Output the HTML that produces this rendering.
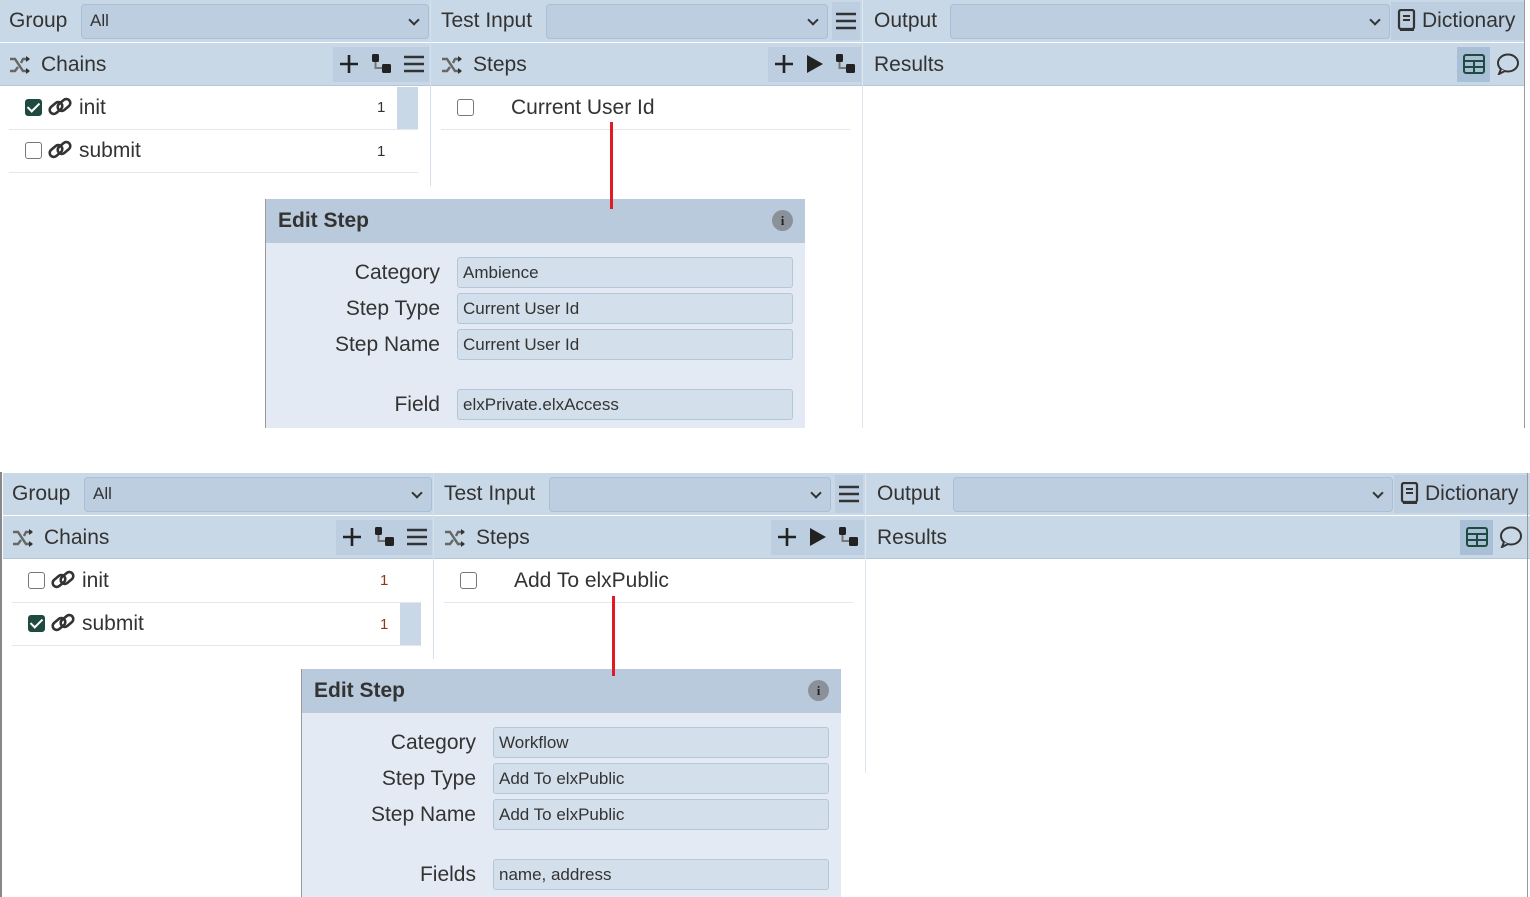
<!DOCTYPE html>
<html><head><meta charset="utf-8"><style>
*{box-sizing:border-box;margin:0;padding:0}
body{width:1530px;height:897px;background:#fff;position:relative;overflow:hidden;font-family:"Liberation Sans",sans-serif;color:#333}
.a{position:absolute}
.sec{position:absolute;width:1530px;height:430px}
.bar{position:absolute;background:#c9d8e6}
.sel{position:absolute;background:#bccee0;border:1px solid #a9bfd6;border-radius:4px;font-size:17px;padding:6px 8px}
.sel:after{content:"";position:absolute;right:10px;top:11px;width:6px;height:6px;border-right:2px solid #333;border-bottom:2px solid #333;transform:rotate(45deg)}
.t21{font-size:21px;white-space:nowrap}
.tb{position:absolute;background:#bccee0}
.cb{position:absolute;width:17px;height:17px;border:1.5px solid #777;border-radius:3px;background:#fff}
.cb.on{background:#1f4a42;border-color:#1f4a42}
.cb.on:after{content:"";position:absolute;left:4px;top:0px;width:5px;height:10px;border-right:2.5px solid #fff;border-bottom:2.5px solid #fff;transform:rotate(45deg)}
.sep{position:absolute;height:1px;background:#e3e8ee}
.vl{position:absolute;width:1px;background:#dde6ef}
.panel{position:absolute;width:540px;background:#e3eaf3;border-left:1px solid #999}
.ph{height:44px;background:#b9cadc;font-weight:bold;font-size:21px;padding:10px 12px;position:relative}
.info{position:absolute;right:12px;top:11px;width:21px;height:21px;border-radius:50%;background:#8a9199;color:#222;font-size:13px;text-align:center;line-height:21px;font-family:"Liberation Serif",serif;font-weight:bold}
.lbl{position:absolute;right:365px;font-size:21px;white-space:nowrap}
.inp{position:absolute;left:191px;width:336px;height:31px;background:#d3dfeb;border:1px solid #b3c6da;border-radius:3px;font-size:17px;padding:5px 5px}
.red{position:absolute;width:3px;background:#e01b24}
.ic{position:absolute;font-size:22px;line-height:1}
svg{position:absolute}
</style></head><body>
<svg width="0" height="0" style="position:absolute">
 <defs>
  <g id="link"><g fill="none" stroke="#333" stroke-width="2.6"><rect x="1" y="8" width="14" height="8" rx="4" transform="rotate(-40 8 12)"/><rect x="9" y="5" width="14" height="8" rx="4" transform="rotate(-40 16 9)"/></g></g>
  <g id="flow"><rect x="0" y="0" width="7" height="8" rx="1.5" fill="#222"/><rect x="10" y="10" width="9" height="9" rx="1.5" fill="#222"/><path d="M3.5 8 V14 H10" fill="none" stroke="#777" stroke-width="2"/></g>
  <g id="shuf"><path d="M1 4 H6 L14 16 H20 M1 16 H6 L9 12 M12 8 L14 4 H20" fill="none" stroke="#666" stroke-width="2.4"/><path d="M17 1 L21 4 L17 7 Z M17 13 L21 16 L17 19 Z" fill="#333"/></g>
  <g id="ham"><path d="M0 2 H20 M0 9 H20 M0 16 H20" stroke="#333" stroke-width="2.6"/></g>
  <g id="plus"><path d="M9 0 V18 M0 9 H18" stroke="#222" stroke-width="2.6"/></g>
 </defs>
</svg>

<!-- TOP -->
<div class="sec" style="left:0;top:0">
 <div class="bar" style="left:0;top:0;width:1524px;height:42px"></div>
 <div class="bar" style="left:0;top:43px;width:1524px;height:43px;border-bottom:1px solid #b3c6da"></div>
 <div class="a t21" style="left:9px;top:9px">Group</div>
 <div class="sel" style="left:81px;top:4px;width:348px;height:35px">All</div>
 <div class="a t21" style="left:441px;top:9px">Test Input</div>
 <div class="sel" style="left:546px;top:4px;width:282px;height:35px"></div>
 <div class="tb" style="left:832px;top:2px;width:28px;height:38px"></div>
 <svg style="left:836px;top:12px" width="20" height="18"><use href="#ham"/></svg>
 <div class="vl" style="left:430px;top:0;height:186px;background:#d5e0eb"></div>
 <div class="vl" style="left:862px;top:0;height:428px"></div>
 <div class="a t21" style="left:874px;top:9px">Output</div>
 <div class="sel" style="left:950px;top:4px;width:440px;height:35px"></div>
 <div class="tb" style="left:1391px;top:2px;width:133px;height:38px"></div>
 <svg style="left:1397px;top:9px" width="20" height="24"><rect x="2" y="1" width="15" height="19" rx="2" fill="none" stroke="#333" stroke-width="2.2"/><path d="M6 7 H13 M6 11 H13 M3 21 H17" stroke="#333" stroke-width="2"/></svg>
 <div class="a t21" style="left:1422px;top:9px">Dictionary</div>
 <svg style="left:9px;top:55px" width="22" height="20"><use href="#shuf"/></svg>
 <div class="a t21" style="left:41px;top:53px">Chains</div>
 <div class="tb" style="left:333px;top:47px;width:96px;height:35px"></div>
 <svg style="left:340px;top:55px" width="18" height="18"><use href="#plus"/></svg>
 <svg style="left:372px;top:54px" width="20" height="20"><use href="#flow"/></svg>
 <svg style="left:404px;top:55px" width="20" height="18"><use href="#ham"/></svg>
 <svg style="left:441px;top:55px" width="22" height="20"><use href="#shuf"/></svg>
 <div class="a t21" style="left:473px;top:53px">Steps</div>
 <div class="tb" style="left:768px;top:47px;width:93px;height:35px"></div>
 <svg style="left:775px;top:55px" width="18" height="18"><use href="#plus"/></svg>
 <svg style="left:806px;top:54px" width="18" height="20"><path d="M1 1 L17 10 L1 19 Z" fill="#222"/></svg>
 <svg style="left:836px;top:54px" width="20" height="20"><use href="#flow"/></svg>
 <div class="a t21" style="left:874px;top:53px">Results</div>
 <div class="tb" style="left:1457px;top:47px;width:33px;height:35px;background:#a9bfd6"></div>
 <svg style="left:1463px;top:54px" width="22" height="20"><rect x="1" y="1" width="20" height="18" rx="2" fill="none" stroke="#1f4a42" stroke-width="2"/><path d="M1 7 H21 M1 13 H21 M11 7 V19" stroke="#1f4a42" stroke-width="2"/></svg>
 <svg style="left:1496px;top:53px" width="24" height="22"><ellipse cx="12" cy="10" rx="10" ry="8.5" fill="none" stroke="#333" stroke-width="2"/><path d="M5 16 L3 21 L9 18" fill="#c9d8e6" stroke="#333" stroke-width="2"/></svg>
 <div class="vl" style="left:1524px;top:0;height:428px;background:#999"></div>
 <div class="a" style="left:397px;top:87px;width:21px;height:42px;background:#c9d8e6"></div>
 <div class="cb on" style="left:25px;top:99px"></div>
 <svg style="left:48px;top:96px" width="26" height="22"><use href="#link"/></svg>
 <div class="a t21" style="left:79px;top:96px">init</div>
 <div class="a" style="left:377px;top:99px;font-size:15px">1</div>
 <div class="sep" style="left:9px;top:129px;width:409px"></div>
 <div class="cb" style="left:25px;top:142px"></div>
 <svg style="left:48px;top:139px" width="26" height="22"><use href="#link"/></svg>
 <div class="a t21" style="left:79px;top:139px">submit</div>
 <div class="a" style="left:377px;top:143px;font-size:15px">1</div>
 <div class="sep" style="left:9px;top:172px;width:409px"></div>
 <div class="cb" style="left:457px;top:99px"></div>
 <div class="a t21" style="left:511px;top:96px">Current User Id</div>
 <div class="sep" style="left:441px;top:129px;width:409px"></div>
</div>
<div class="red" style="left:610px;top:122px;height:87px;z-index:2"></div>
<div class="panel" style="left:265px;top:199px;height:229px">
 <div class="ph">Edit Step<div class="info">i</div></div>
 <div class="lbl" style="top:62px">Category</div><div class="inp" style="top:58px">Ambience</div>
 <div class="lbl" style="top:98px">Step Type</div><div class="inp" style="top:94px">Current User Id</div>
 <div class="lbl" style="top:134px">Step Name</div><div class="inp" style="top:130px">Current User Id</div>
 <div class="lbl" style="top:194px">Field</div><div class="inp" style="top:190px">elxPrivate.elxAccess</div>
</div>

<!-- BOTTOM -->
<div class="a" style="left:0;top:472px;width:2px;height:425px;background:#888"></div>
<div class="sec" style="left:3px;top:473px;height:424px">
 <div class="bar" style="left:0;top:0;width:1527px;height:42px"></div>
 <div class="bar" style="left:0;top:43px;width:1527px;height:43px;border-bottom:1px solid #b3c6da"></div>
 <div class="a t21" style="left:9px;top:9px">Group</div>
 <div class="sel" style="left:81px;top:4px;width:348px;height:35px">All</div>
 <div class="a t21" style="left:441px;top:9px">Test Input</div>
 <div class="sel" style="left:546px;top:4px;width:282px;height:35px"></div>
 <div class="tb" style="left:832px;top:2px;width:28px;height:38px"></div>
 <svg style="left:836px;top:12px" width="20" height="18"><use href="#ham"/></svg>
 <div class="vl" style="left:430px;top:0;height:186px;background:#d5e0eb"></div>
 <div class="vl" style="left:862px;top:0;height:300px"></div>
 <div class="a t21" style="left:874px;top:9px">Output</div>
 <div class="sel" style="left:950px;top:4px;width:440px;height:35px"></div>
 <div class="tb" style="left:1391px;top:2px;width:133px;height:38px"></div>
 <svg style="left:1397px;top:9px" width="20" height="24"><rect x="2" y="1" width="15" height="19" rx="2" fill="none" stroke="#333" stroke-width="2.2"/><path d="M6 7 H13 M6 11 H13 M3 21 H17" stroke="#333" stroke-width="2"/></svg>
 <div class="a t21" style="left:1422px;top:9px">Dictionary</div>
 <svg style="left:9px;top:55px" width="22" height="20"><use href="#shuf"/></svg>
 <div class="a t21" style="left:41px;top:53px">Chains</div>
 <div class="tb" style="left:333px;top:47px;width:96px;height:35px"></div>
 <svg style="left:340px;top:55px" width="18" height="18"><use href="#plus"/></svg>
 <svg style="left:372px;top:54px" width="20" height="20"><use href="#flow"/></svg>
 <svg style="left:404px;top:55px" width="20" height="18"><use href="#ham"/></svg>
 <svg style="left:441px;top:55px" width="22" height="20"><use href="#shuf"/></svg>
 <div class="a t21" style="left:473px;top:53px">Steps</div>
 <div class="tb" style="left:768px;top:47px;width:93px;height:35px"></div>
 <svg style="left:775px;top:55px" width="18" height="18"><use href="#plus"/></svg>
 <svg style="left:806px;top:54px" width="18" height="20"><path d="M1 1 L17 10 L1 19 Z" fill="#222"/></svg>
 <svg style="left:836px;top:54px" width="20" height="20"><use href="#flow"/></svg>
 <div class="a t21" style="left:874px;top:53px">Results</div>
 <div class="tb" style="left:1457px;top:47px;width:33px;height:35px;background:#a9bfd6"></div>
 <svg style="left:1463px;top:54px" width="22" height="20"><rect x="1" y="1" width="20" height="18" rx="2" fill="none" stroke="#1f4a42" stroke-width="2"/><path d="M1 7 H21 M1 13 H21 M11 7 V19" stroke="#1f4a42" stroke-width="2"/></svg>
 <svg style="left:1496px;top:53px" width="24" height="22"><ellipse cx="12" cy="10" rx="10" ry="8.5" fill="none" stroke="#333" stroke-width="2"/><path d="M5 16 L3 21 L9 18" fill="#c9d8e6" stroke="#333" stroke-width="2"/></svg>
 <div class="vl" style="left:1524px;top:0;height:424px;background:#999"></div>
 <div class="a" style="left:397px;top:130px;width:21px;height:42px;background:#c9d8e6"></div>
 <div class="cb" style="left:25px;top:99px"></div>
 <svg style="left:48px;top:96px" width="26" height="22"><use href="#link"/></svg>
 <div class="a t21" style="left:79px;top:96px">init</div>
 <div class="a" style="left:377px;top:99px;font-size:15px;color:#8a3a1a">1</div>
 <div class="sep" style="left:9px;top:129px;width:409px"></div>
 <div class="cb on" style="left:25px;top:142px"></div>
 <svg style="left:48px;top:139px" width="26" height="22"><use href="#link"/></svg>
 <div class="a t21" style="left:79px;top:139px">submit</div>
 <div class="a" style="left:377px;top:143px;font-size:15px;color:#8a3a1a">1</div>
 <div class="sep" style="left:9px;top:172px;width:409px"></div>
 <div class="cb" style="left:457px;top:99px"></div>
 <div class="a t21" style="left:511px;top:96px">Add To elxPublic</div>
 <div class="sep" style="left:441px;top:129px;width:409px"></div>
</div>
<div class="red" style="left:612px;top:596px;height:80px;z-index:2"></div>
<div class="panel" style="left:301px;top:669px;height:228px">
 <div class="ph">Edit Step<div class="info">i</div></div>
 <div class="lbl" style="top:62px">Category</div><div class="inp" style="top:58px">Workflow</div>
 <div class="lbl" style="top:98px">Step Type</div><div class="inp" style="top:94px">Add To elxPublic</div>
 <div class="lbl" style="top:134px">Step Name</div><div class="inp" style="top:130px">Add To elxPublic</div>
 <div class="lbl" style="top:194px">Fields</div><div class="inp" style="top:190px">name, address</div>
</div>
</body></html>
